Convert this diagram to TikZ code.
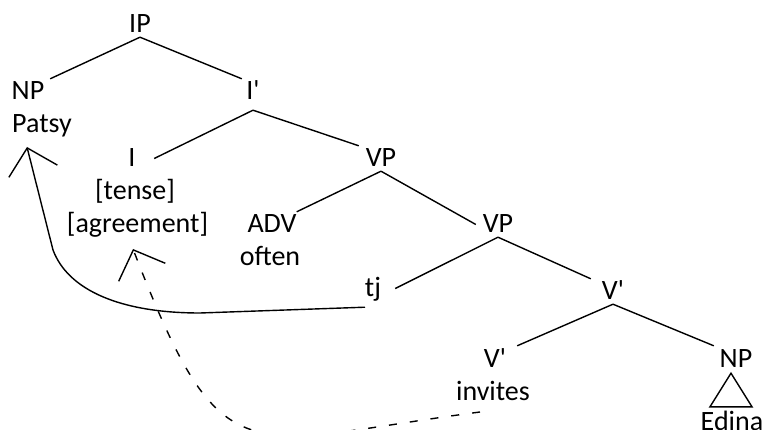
\documentclass[tikz,border=0pt]{standalone}
\usepackage{fontspec}
\setmainfont{Carlito}
\usepackage{tikz}
\usetikzlibrary{arrows.meta,positioning}

\begin{document}
\begin{tikzpicture}[
        x=1pt, y=-1pt,
        cat/.style={anchor=base, inner xsep=0pt, inner ysep=4pt, minimum width=44pt,
            text height=17pt, text depth=0pt, font=\fontsize{28}{33}\selectfont},
        word/.style={anchor=base, inner sep=0pt, font=\fontsize{28}{33}\selectfont},
        branch/.style={line width=1.4pt},
        move/.style={line width=1.4pt, -{Straight Barb[length=24pt,width=50pt]}},
        trace/.style={move, dash pattern=on 8pt off 13pt}
    ]
        \useasboundingbox (0,0) rectangle (763,430);

        % Categories
        \node[cat] (ip) at (140,33) {IP};
        \node[cat] (np1) at (28,100) {NP};
        \node[cat, minimum width=22pt] (ibar) at (253,100) {I\textquotesingle};
        \node[cat] (i) at (132,167) {I};
        \node[cat] (vp1) at (381,167) {VP};
        \node[cat] (adv) at (272,233) {ADV};
        \node[cat] (vp2) at (498,233) {VP};
        \node[cat] (tj) at (373,297) {tj};
        \node[cat] (vbar1) at (613,300) {V\textquotesingle};
        \node[cat] (vbar2) at (495,367) {V\textquotesingle};
        \node[cat] (np2) at (736,367) {NP};

        % Words and features under the categories
        \node[word] (patsy) at ([xshift=14pt,yshift=-33pt]np1.base) {Patsy};
        \node[word] (tense) at ([xshift=3pt,yshift=-33pt]i.base) {[tense]};
        \node[word] (agreement) at ([xshift=2.5pt,yshift=-33pt]tense.base) {[agreement]};
        \node[word] (often) at ([xshift=-2pt,yshift=-33pt]adv.base) {often};
        \node[word] (invites) at ([xshift=-2pt,yshift=-33pt]vbar2.base) {invites};
        \node[word, inner ysep=4pt, text height=17pt] (edina) at ([xshift=-4pt,yshift=-63pt]np2.base) {Edina};

        % Branches
        \draw[branch] (ip.south) -- (np1.north east);
        \draw[branch] (ip.south) -- (ibar.north west);
        \draw[branch] ([yshift=-6pt]ibar.south) -- (i.east);
        \draw[branch] ([yshift=-6pt]ibar.south) -- (vp1.north west);
        \draw[branch] (vp1.south) -- (adv.north east);
        \draw[branch] (vp1.south) -- (vp2.west);
        \draw[branch] (vp2.south) -- (tj.east);
        \draw[branch] (vp2.south) -- (vbar1.north west);
        \draw[branch] (vbar1.south) -- (vbar2.north east);
        \draw[branch] (vbar1.south) -- (np2.north west);

        % Roof over Edina
        \draw[branch] ([xshift=-5pt,yshift=-2pt]np2.south)
            -- ([xshift=-22pt,yshift=2pt]edina.north)
            -- ([xshift=20pt,yshift=2pt]edina.north) -- cycle;

        % Movements
        \draw[move] ([xshift=-8pt,yshift=-6pt]tj.south) -- (200,313)
            .. controls (120,313) and (68,290) .. (53,250)
            -- ([xshift=-15pt,yshift=-14pt]patsy.base);
        \draw[trace] ([xshift=-13pt,yshift=-12pt]invites.base)
            .. controls (242,443) and (223,482) .. ([xshift=-4.5pt,yshift=-16pt]agreement.base);
\end{tikzpicture}
\end{document}
